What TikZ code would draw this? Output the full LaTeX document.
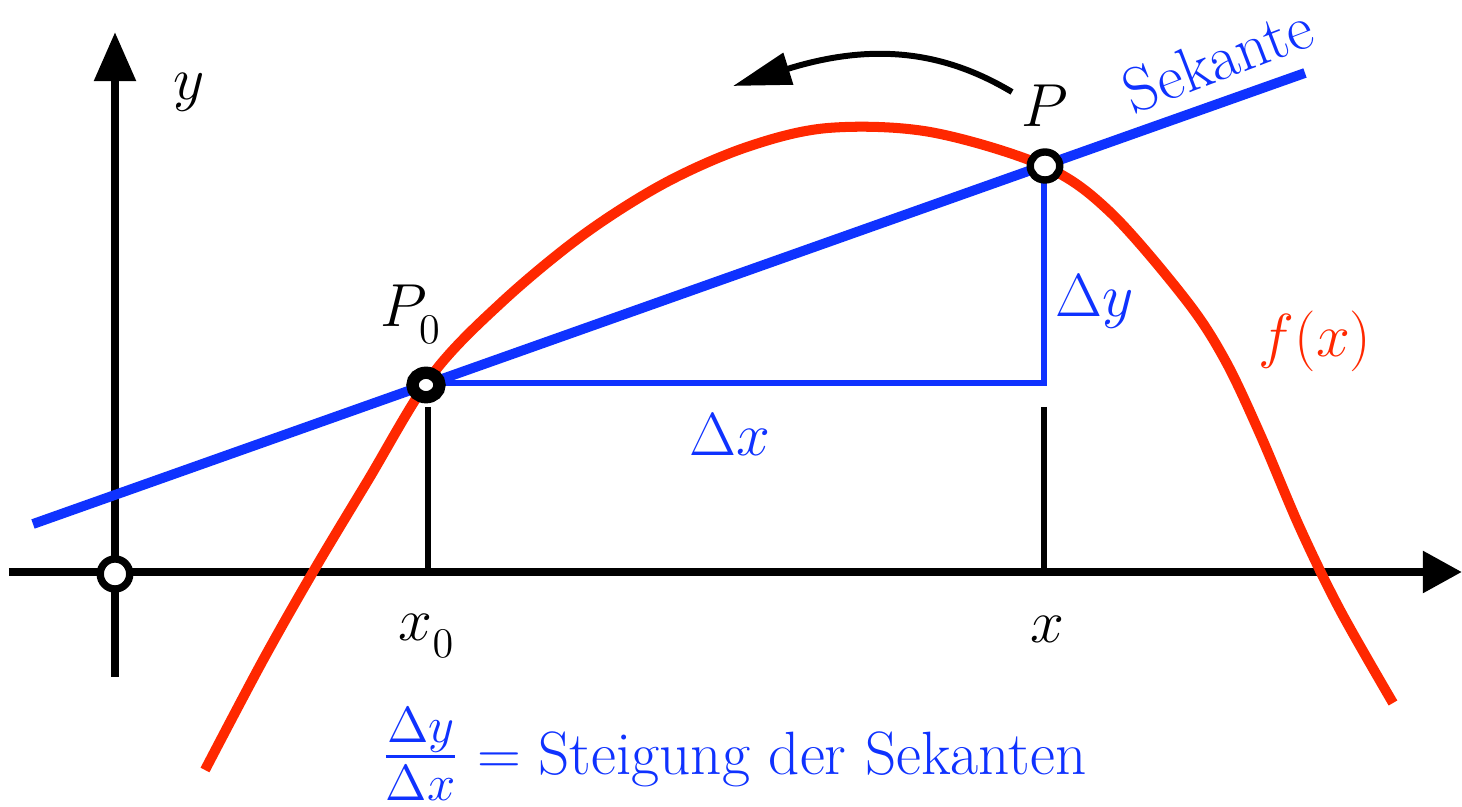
\documentclass[tikz,border=0pt]{standalone}
\usepackage{amsmath}
\usetikzlibrary{arrows.meta,shapes.geometric}
\definecolor{secblue}{RGB}{15,50,255}
\definecolor{fred}{RGB}{255,40,0}
\newcommand{\lblfont}{\fontsize{18}{20}\selectfont}
\newcommand{\txtfont}{\fontsize{18}{20}\selectfont}
\newcommand{\formfont}{\fontsize{17.4}{20}\selectfont}
\newcommand{\fracfont}{\fontsize{20}{22}\selectfont}
\begin{document}
\begin{tikzpicture}[x=0.01cm,y=-0.01cm,
  axisline/.style={line width=2.4pt},
  tickline/.style={line width=1.9pt},
  secline/.style={line width=2.8pt, draw=secblue},
  deltaline/.style={line width=1.6pt, draw=secblue, line join=miter},
  curveline/.style={line width=2.85pt, draw=fred, line join=round},
  ring/.style={ellipse, draw=black, fill=white, inner sep=0pt, outer sep=0pt},
  lbl/.style={inner sep=0pt, font=\lblfont},
  txt/.style={inner sep=0pt, font=\txtfont},
]
\useasboundingbox (0,0) rectangle (1462,807);

% named coordinates
\coordinate (xl) at (9,572);
\coordinate (xr) at (1462,572);
\coordinate (yb) at (115,677);
\coordinate (yt) at (115,32);
\coordinate (s1) at (33,524);
\coordinate (s2) at (1305,73);
\coordinate (corner) at (1044,383);
\coordinate (t0a) at (428,407);
\coordinate (t0b) at (428,572);
\coordinate (t1a) at (1044,407);
\coordinate (t1b) at (1044,572);
\coordinate (a1) at (1012,92);
\coordinate (a2) at (733,86);

% axes
\draw[axisline, -{Triangle[length=0.39cm,width=0.40cm]}] (xl) -- (xr);
\draw[axisline, -{Triangle[length=0.49cm,width=0.40cm]}] (yb) -- (yt);

% ticks
\draw[tickline] (t0a) -- (t0b);
\draw[tickline] (t1a) -- (t1b);

% secant
\draw[secline] (s1) -- (s2);

% delta triangle
\draw[deltaline] (427,383) -- (corner) -- (1044,166);

% curve f(x)
\draw[curveline] plot[smooth, tension=0.55] coordinates {
 (205,770) (262,662) (313,572) (367,482) (432,375) (502,302)
 (583,235) (665,183) (747,147) (828,128) (930,132) (1044,166)
 (1110,212) (1186,300) (1225,360) (1260,434) (1300,528)
 (1340,610) (1393,703)};

% points
\node[ring, line width=2.1pt, minimum width=0.295cm, minimum height=0.30cm] (O) at (115,574) {};
\node[ring, line width=3.5pt, minimum width=0.27cm, minimum height=0.245cm] (P0) at (426,385) {};
\node[ring, line width=2.1pt, minimum width=0.295cm, minimum height=0.28cm] (P) at (1045,166) {};

% top arrow
\draw[line width=1.7pt, -{Triangle[length=0.58cm,width=0.32cm]}] (a1) .. controls (950,55) and (880,40) .. (a2);

% labels
\node[lbl, anchor=base] (ylab) at (189,100) {$y$};
\node[lbl, anchor=base] (Plab) at (1045,127) {$P$};
\node[lbl, anchor=base west] (P0lab) at (380,327) {$P_{\raisebox{-2pt}{$\scriptstyle 0$}}$};
\node[lbl, anchor=base west] (x0lab) at (398,641) {$x_{\raisebox{-2pt}{$\scriptstyle 0$}}$};
\node[lbl, anchor=base] (xlab) at (1047,643) {$x$};
\node[lbl, anchor=base, text=secblue] (dxlab) at (730,456) {$\Delta x$};
\node[lbl, anchor=base, text=secblue] (dylab) at (1095,317) {$\Delta y$};
\node[lbl, anchor=base, text=fred] (flab) at (1315,357) {$f(x)$};
\node[txt, text=secblue, rotate=21] (seklab) at (1218,59) {Sekante};
\node[inner sep=0pt, font=\formfont, anchor=base west, text=secblue] (formula) at (381,775)
 {{\fracfont$\genfrac{}{}{0.85pt}{1}{\Delta y}{\Delta x}$}\hspace{5pt}$=$\hspace{5pt}Steigung der Sekanten};
\end{tikzpicture}
\end{document}
